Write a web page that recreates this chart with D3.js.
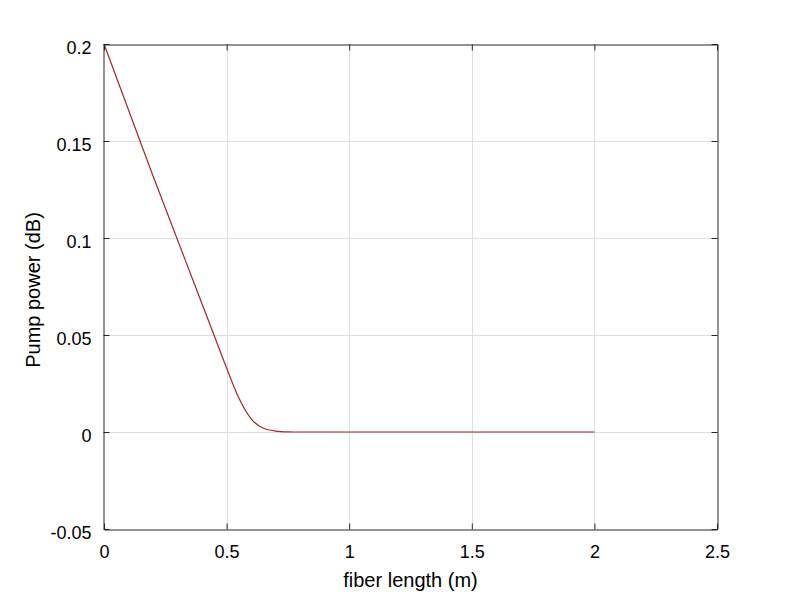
<!DOCTYPE html>
<html><head><meta charset="utf-8">
<script src="https://cdn.jsdelivr.net/npm/d3@7"></script>
<style>body{margin:0;background:#fff}svg{display:block}text{font-family:"Liberation Sans",Arial,sans-serif}</style>
</head><body>
<svg id="c" width="794" height="595"></svg>
<script>
const fiberLength = [0,0.05,0.1,0.15,0.2,0.25,0.3,0.35,0.4,0.45,0.5,0.55,0.6,0.65,0.7,0.75,0.8,1.0,1.5,2.0];
const pumpPower   = [0.2,0.183,0.166,0.149,0.132,0.1155,0.099,0.0825,0.066,0.0495,0.033,0.0175,0.0068,0.0019,0.0005,0.0001,0,0,0,0];
const xTicks = [0,0.5,1,1.5,2,2.5];
const yTicks = [-0.05,0,0.05,0.1,0.15,0.2];
const xLabel = "fiber length (m)";
const yLabel = "Pump power (dB)";

const svg = d3.select("#c");
const L=104,R=717,T=44,B=529;
const x = d3.scaleLinear().domain([0,2.5]).range([L,R]);
const y = d3.scaleLinear().domain([-0.05,0.2]).range([B,T]);
const axisCol="#262626";

// grid
const g = svg.append("g");
g.selectAll(".gx").data(xTicks.slice(1,-1)).join("line")
 .attr("x1",d=>Math.round(x(d))+0.5).attr("x2",d=>Math.round(x(d))+0.5).attr("y1",T).attr("y2",B)
 .attr("stroke","#dfdfdf").attr("stroke-width",1);
g.selectAll(".gy").data(yTicks.slice(1,-1)).join("line")
 .attr("y1",d=>Math.round(y(d))+0.5).attr("y2",d=>Math.round(y(d))+0.5).attr("x1",L).attr("x2",R)
 .attr("stroke","#dfdfdf").attr("stroke-width",1);

// line
const line = d3.line().x((d,i)=>x(fiberLength[i])).y(d=>y(d)).curve(d3.curveMonotoneX);
svg.append("path").datum(pumpPower).attr("d",line)
 .attr("fill","none").attr("stroke","#a3262a").attr("stroke-width",1.2);

// axes
const fmt = d=>String(+d.toFixed(2));
const ax = (gen,tr)=>{ const a=svg.append("g").attr("transform",tr).call(gen);
  a.select(".domain").attr("stroke",axisCol); a.selectAll(".tick line").attr("stroke",axisCol);
  a.selectAll("text").attr("fill","#000").style("font-size","18px"); return a; };
ax(d3.axisBottom(x).tickValues(xTicks).tickFormat(fmt).tickSize(-6).tickSizeOuter(0).tickPadding(16),`translate(0,${B+0.5})`);
ax(d3.axisTop(x).tickValues(xTicks).tickFormat("").tickSize(-6).tickSizeOuter(0),`translate(0,${T+0.5})`);
const ya = ax(d3.axisLeft(y).tickValues(yTicks).tickFormat(fmt).tickSize(-6).tickSizeOuter(0).tickPadding(12),`translate(${L-0.5},0)`);
ya.selectAll("text").attr("y",4);
ax(d3.axisRight(y).tickValues(yTicks).tickFormat("").tickSize(-6).tickSizeOuter(0),`translate(${R+0.5},0)`);

svg.append("text").attr("x",(L+R)/2).attr("y",587).attr("text-anchor","middle")
 .style("font-size","20px").text(xLabel);
svg.append("text").attr("transform",`translate(40,290) rotate(-90)`).attr("text-anchor","middle")
 .style("font-size","20px").text(yLabel);
</script>
</body></html>
